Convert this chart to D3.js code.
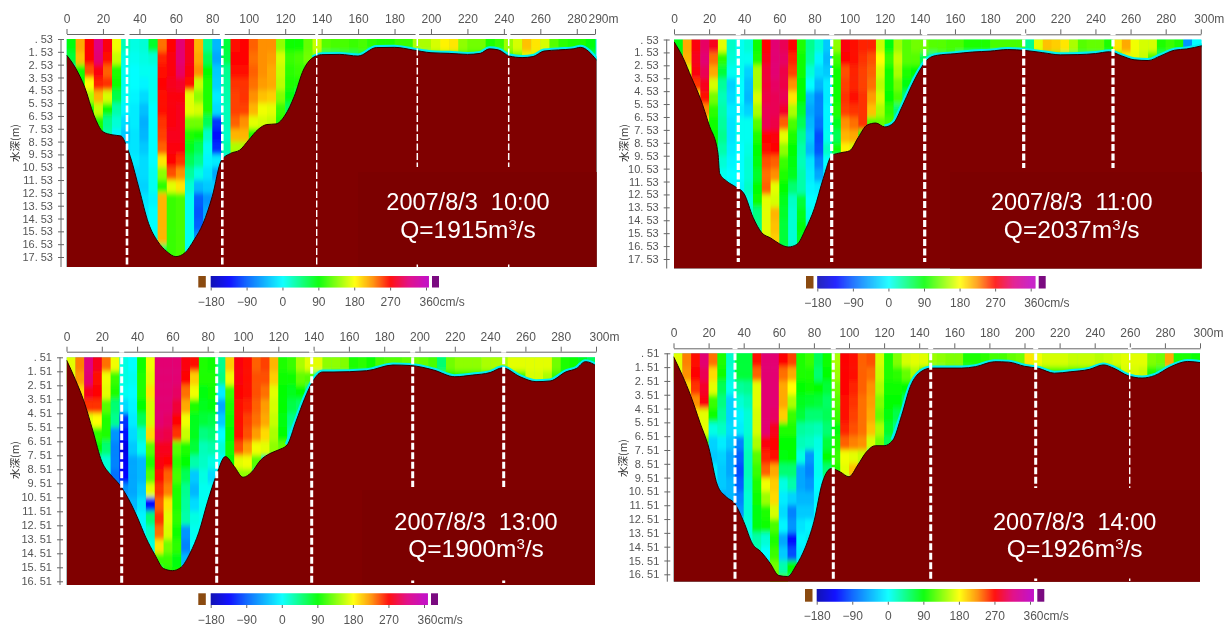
<!DOCTYPE html>
<html>
<head>
<meta charset="utf-8">
<title>ADCP cross sections 2007/8/3</title>
<script src="https://d3js.org/d3.v7.min.js"></script>
<style>
  html, body { margin: 0; padding: 0; background: #fff; }
  svg { display: block; filter: blur(0.5px); }
  .axis text { font-family: "Liberation Sans Narrow", "Liberation Sans", sans-serif; fill: #555; }
  .axis path, .axis line { stroke: #666; }
</style>
</head>
<body>
<script>
// velocity in cm/s, one list per 5 m column, one value per 1 m depth row
const velocity10 = [
  [85,70],
  [215,205,95,90],
  [270,270,245,180,150,95],
  [315,310,275,260,210,160,100,85],
  [275,265,240,255,165,95,40,30],
  [175,160,100,95,65,30,15,-5,-10],
  [25,10,5,5,5,-5,-20,-30,-20,-20],
  [10,5,0,0,-5,-10,-10,-15,-15,-10,-20,-30,-20],
  [15,10,5,-5,-20,-35,-45,-40,-30,-20,-20,-25,-15,-10,-5],
  [75,15,5,5,5,0,0,0,0,0,5,5,-5,0,0,5,5],
  [235,260,265,270,265,265,255,250,240,190,140,105,210,210,210,210,60],
  [270,275,275,280,275,275,275,280,275,270,245,170,110,110,110,110,110,110],
  [310,310,305,285,275,280,280,280,275,255,225,190,115,115,115,115,115,115],
  [280,280,275,265,170,170,130,100,80,60,35,15,5,5,5,5,5],
  [210,215,225,160,140,165,130,95,60,40,10,-40,-90,-95,-90,-60],
  [40,60,90,100,100,100,60,20,5,-5,-15,-30,-60,-50,-40],
  [-40,-50,-30,-25,-10,-20,-110,-130,-115,-10,-50,-30,-40],
  [70,65,40,35,30,25,25,20,30,10],
  [265,270,265,255,250,250,240,210,150,90],
  [270,270,265,255,255,250,225,210,150],
  [240,235,240,235,225,210,170,100],
  [225,225,225,220,205,175,165,100],
  [225,220,215,215,200,170,160],
  [140,165,160,155,135,110,100],
  [95,110,105,100,85,60],
  [95,115,110,100,60],
  [125,130,95],
  [160,140],
  [120,50],[115,50],[115,60],[110,55],[115,70],[105,20],[100,20],[100,20],[110,20],[110,30],
  [150,40],[150,60],[165,100],[185,110],[190,110],[140,100],[130,90],[130,90],[100,40],[110,40],
  [145,110],[165,130],[205,170],[190,160],[165,60],[120,30],[105,30],[100,30],[100,30],[85,60]
];
const velocity11 = [
  [85,85],
  [215,210,165,120],
  [275,280,275,255,185],
  [305,310,300,280,265,225,170,110],
  [280,235,215,165,130,105,95,90,85,60],
  [170,105,70,35,25,30,35,40,30,15,5],
  [20,15,5,-25,-20,-10,-15,-15,-10,-5,0,-5],
  [5,5,5,0,0,-10,5,5,0,0,0,-5,-5],
  [15,5,-25,-35,-40,-25,5,5,10,15,15,20,10,20,30],
  [95,100,150,150,165,150,120,100,90,85,75,90,95,45,40,30],
  [270,280,290,290,295,300,300,270,265,245,235,240,170,170,170,165],
  [310,310,310,305,300,300,295,275,270,240,225,170,165,210,205,200,190],
  [300,305,295,295,300,285,240,170,140,110,100,90,80,75,70,70,60],
  [270,260,250,225,190,150,115,100,90,85,80,50,20,15,15,15,25],
  [100,95,95,90,90,75,60,40,30,25,30,30,70,80,85,80,60],
  [40,35,15,0,-40,-50,-40,-30,-40,-15,-10,-5,0,5,20],
  [15,-5,-20,-40,-70,-70,-80,-100,-95,-70,-50,-10,0,0],
  [-30,-40,-30,-10,-10,-5,-5,5,20,0,-15],
  [140,110,95,95,95,100,80,60,95,20],
  [275,270,245,250,255,250,225,210,185,130],
  [265,265,260,260,265,255,235,215,165],
  [260,255,250,250,255,255,255,100],
  [260,245,240,235,220,205,120],
  [160,180,165,155,165,150,125],
  [85,110,95,95,90,105,115],
  [145,160,150,130,115,50],
  [120,120,100,85,50],
  [130,120,90],
  [130,60],
  [120,40],[120,60],[115,70],[115,30],[100,20],[100,20],[100,20],[115,20],[115,20],[115,20],
  [115,20],[40,40],[170,110],[205,110],[200,100],[190,60],[150,60],[120,60],[125,60],[125,60],
  [100,50],[190,100],[215,175],[175,170,60],[165,160,90],[165,115,90],[100,50],[110,50],[100,30],[-60,20],[0,0]
];
const velocity13 = [
  [170,170],
  [230,220,195,165],
  [315,310,280,255,170,130],
  [280,265,270,255,180,105,90,20,-5],
  [235,175,170,120,100,100,50,15,10,5],
  [175,110,100,50,40,-60,-70,-70,-80,-50],
  [10,10,5,-20,-110,-130,-150,-140,-135,-60,-20],
  [0,5,0,-5,-10,-20,-30,-50,-50,-50,-40,-10],
  [95,100,100,90,60,20,5,-40,-40,-30,-15,-5,-5],
  [175,170,190,165,165,195,120,100,120,170,-130,50,20,10,5],
  [310,310,310,310,310,300,280,275,265,255,240,255,235,190,110,60],
  [310,310,310,310,305,295,280,270,240,230,190,170,165,130,110,100],
  [310,310,305,290,270,255,120,105,115,100,100,105,95,105,85,95],
  [275,270,235,215,175,160,100,90,60,40,35,30,-60,-70,-40],
  [265,200,175,100,80,80,70,30,-30,-40,-20,10,5,0],
  [100,100,85,80,70,45,25,20,10,5,5,5,5],
  [95,100,95,85,65,50,30,10,-20,5,5],
  [40,45,-10,-50,-30,0,15,0,5],
  [200,175,110,100,95,90,95,90,70],
  [275,275,270,265,265,265,245,170,140],
  [265,265,265,260,250,245,220,175,140],
  [240,245,245,240,235,220,175,120],
  [250,245,235,220,215,195,170],
  [210,200,170,165,160,150,140],
  [100,95,90,90,85,90,125],
  [110,95,80,65,45,30],
  [150,125,90,55],
  [170,120,60],
  [170,50],[140,60],[140,70],[135,60],[100,60],[105,60],[95,60],[115,50],[120],[120],
  [125],[130],[125,60],[115,60],[50,110],[130,90],[140,90],[140,90],[140,90],[150,90],
  [150,90],[150],[170,80],[170,110],[170,165,80],[170,165,100],[170,150,90],[130,110],[100,80],[95,70],[80],[60]
];
const velocity14 = [
  [170,170],
  [230,225,195,165],
  [265,270,255,225,190],
  [310,300,285,275,170,170,120,100],
  [235,195,170,110,95,10,-25,-30,-10,-5,0],
  [100,95,60,45,35,20,-10,-25,-30,-30,-50],
  [20,15,5,-25,-25,-20,-30,-50,-50,-40,-40,-20],
  [70,70,35,15,-5,-10,-70,-90,-100,-90,-70,-60,10],
  [70,70,40,25,15,15,20,25,25,20,15,15,10,10],
  [265,240,170,170,165,165,150,120,110,100,95,85,85,30,25],
  [310,310,310,310,310,310,275,260,240,175,145,100,95,15,0,5],
  [310,310,310,310,305,280,270,265,215,200,195,165,115,100,110,130,100],
  [270,235,215,215,200,100,90,85,50,10,-10,-20,-5,-50,-30,30,110],
  [250,215,180,150,110,100,90,90,50,30,-25,-70,-60,-130,-100,90],
  [100,100,90,80,70,35,25,10,-50,-50,-40,-30,-15,-5,-10],
  [110,100,95,75,50,30,20,-60,-70,-60,-40,-30,-5],
  [60,50,90,70,50,25,10,5,5,0,-5,0],
  [95,90,70,55,60,50,70,90,50],
  [150,145,130,120,110,85,100,110,100],
  [270,270,270,265,265,260,240,175,170,60],
  [265,265,260,255,250,245,230,170,205],
  [240,240,240,235,235,235,225,160],
  [245,235,225,220,215,205,165],
  [165,160,150,135,125,150,130],
  [100,100,95,90,85,75,60],
  [135,105,95,90,65,45],
  [165,125,90,60],
  [170,150,100],
  [170,110],
  [145,60],[140,60],[135,70],[135,70],[100,60],[100],[105],[115],[115],[125],
  [130],[190,110],[175,110],[165,110],[165,110],[165,110],[160,110],[160,110],[160,100],[155],
  [160],[165,110],[170,165,100],[170,165,130],[170,160,100],[135,100],[130,70],[215,70],[100],[100],[95]
];

// river bed: distance from the left bank (m) and depth (m)
const bedDist10 = [0,5,10,15,20,25,30,33,35,40,45,50,55,60,65,70,75,80,85,90,95,100,105,110,115,120,125,130,135,140,150,160,170,180,190,200,210,220,227,232,237,243,250,256,262,270,278,282,291];
const bedDepth10 = [1.78,2.8,4.3,6.46,7.76,8,8.1,8.9,9.7,12.3,14.9,16.3,17.1,17.5,17.2,16.2,14.9,12.8,10,9.45,9.2,8.4,7.6,7.2,7.15,6.46,5,2.95,2,1.75,1.73,1.86,1.2,1.18,1.38,1.6,1.65,1.73,1.65,1.3,1.38,1.86,1.98,1.9,1.47,1.38,1.3,1.18,2.2];
const bedDist11 = [0,5,10,15,20,25,26,30,35,40,45,50,55,60,65,70,75,80,85,90,95,100,105,110,115,120,125,130,135,140,145,150,160,170,180,190,200,210,220,230,240,248,255,262,270,277,285,292,301];
const bedDepth11 = [0.7,1.9,3.5,5.1,7.15,9.3,10.9,11.5,11.94,12.5,14.3,15.5,15.9,16.35,16.6,16.4,15.2,13.6,11.3,9.5,9.3,9.15,8.1,7.15,7,7.3,7,5.7,4.2,2.9,2,1.75,1.63,1.5,1.43,1.31,1.38,1.55,1.72,1.7,1.62,1.48,1.8,2.1,2.16,1.8,1.36,1.26,1];
const bedDist13 = [0,5,10,15,20,25,30,35,40,45,50,55,60,65,70,75,80,85,90,95,100,105,110,115,120,125,130,135,140,145,151,170,185,195,208,220,230,240,247,257,266,274,283,289,294,301];
const bedDepth13 = [0.7,2.1,3.7,5.8,7.96,8.9,9.6,10.6,11.9,13.4,14.6,15.6,15.75,15.5,14.5,13,10.8,8.9,7.6,8.3,9.08,8.7,7.85,7.4,7.13,6.77,5.1,3.44,2.13,1.56,1.56,1.47,1.06,1.1,1.42,1.9,1.78,1.6,1.26,1.9,2.25,2.2,1.55,1.3,0.82,1.18];
const bedDist14 = [0,5,10,15,20,25,30,35,40,45,50,55,60,65,70,75,80,85,90,95,100,105,110,115,120,125,130,135,141,147,164,172,183,191,200,208,217,226,237,245,251,259,267,274,283,293,301];
const bedDepth14 = [0.75,2.1,3.65,5.5,7.3,10.05,10.9,11.4,12.7,14.3,14.9,15.7,16.6,16.67,15.85,14.6,12.7,9.8,8.85,9.1,9.45,8.6,7.64,7.2,7.2,6.8,5,2.9,1.84,1.58,1.58,1.48,1.12,1.15,1.45,1.6,1.95,1.85,1.67,1.35,1.6,2.13,2.3,2.13,1.5,1.1,1.2];

const distTicks290 = [0,20,40,60,80,100,120,140,160,180,200,220,240,260,280,290];
const distTicks300 = [0,20,40,60,80,100,120,140,160,180,200,220,240,260,280,300];
const depthTicks53 = [.53,1.53,2.53,3.53,4.53,5.53,6.53,7.53,8.53,9.53,10.53,11.53,12.53,13.53,14.53,15.53,16.53,17.53];
const depthTicks51 = [.51,1.51,2.51,3.51,4.51,5.51,6.51,7.51,8.51,9.51,10.51,11.51,12.51,13.51,14.51,15.51,16.51];
const legendTicks = [-180,-90,0,90,180,270,360];

const colorStops = [-180,-135,-90,0,90,180,225,270,315,360];
const colorValues = ["#0000b0","#0000ff","#0060ff","#00ffff","#00ff00","#ffff00","#ff9000","#ff0000","#e00080","#c000c0"];

const color = d3.scaleLinear().domain(colorStops).range(colorValues).clamp(true);

const panels = [
  { velocity: velocity10, bedDist: bedDist10, bedDepth: bedDepth10, distTicks: distTicks290, depthTicks: depthTicks53,
    top: 39, bottom: 267, left: 66.5, right: 596.7, x1: 595, y0: 39, y1: 257, axisY: 34, axisX: 61,
    edgeFrom: 135, title: "2007/8/3  10:00", q: "1915", textX: 468, textY: [210, 238], titleX: 15, titleY: 143,
    box: [358, 172, 238.7, 95],
    heavy: [127, 222.3], thin: [316.7], short: [417.3, 508.7], shortThick: 1.5, shortEnd: 167, width: 2.6, tailEnd: 267,
    legend: { left: 210.7, zero: 426, right: 428, y: 276, h: 11.5, label: 306, b0: 198.3, p0: 432 } },
  { velocity: velocity11, bedDist: bedDist11, bedDepth: bedDepth11, distTicks: distTicks300, depthTicks: depthTicks53,
    top: 39.5, bottom: 268.5, left: 674, right: 1201.7, x1: 1200.8, y0: 39.5, y1: 259, axisY: 34.3, axisX: 666.7,
    edgeFrom: 120, title: "2007/8/3  11:00", q: "2037", textX: 1071.7, textY: [210, 238], titleX: 624, titleY: 143,
    box: [950, 172, 251.7, 96.5],
    heavy: [738.3, 831.7, 924.7], thin: [], short: [1023.7, 1113], shortEnd: 168, width: 3.2, heavyEnd: 262,
    legend: { left: 817.3, zero: 1030.7, right: 1034.7, y: 276, h: 12.5, label: 307, b0: 806, p0: 1038.7, cut: 307.5 } },
  { velocity: velocity13, bedDist: bedDist13, bedDepth: bedDepth13, distTicks: distTicks300, depthTicks: depthTicks51,
    top: 357.3, bottom: 585, left: 66.5, right: 595, x1: 596, y0: 357.3, y1: 581.3, axisY: 351.7, axisX: 60,
    edgeFrom: 125, title: "2007/8/3  13:00", q: "1900", textX: 476, textY: [530, 557], titleX: 15, titleY: 460,
    box: [362, 490, 233, 95],
    heavy: [121.7, 216.7, 311.7], thin: [], short: [412.7, 503.7], shortEnd: 487, width: 3, heavyEnd: 583, tailEnd: 583,
    legend: { left: 210.7, zero: 424, right: 427.3, y: 593.3, h: 11.7, label: 624, b0: 198.3, p0: 431 } },
  { velocity: velocity14, bedDist: bedDist14, bedDepth: bedDepth14, distTicks: distTicks300, depthTicks: depthTicks51,
    top: 353.3, bottom: 581.7, left: 673.5, right: 1200, x1: 1200, y0: 353.3, y1: 574.3, axisY: 348.3, axisX: 667.3,
    edgeFrom: 125, title: "2007/8/3  14:00", q: "1926", textX: 1074.7, textY: [530, 557], titleX: 623, titleY: 458,
    box: [960, 490, 240, 91.7],
    heavy: [735, 833.3, 930.7], thin: [], short: [1035.7, 1129.7], shortEnd: 488, width: 3, heavyEnd: 581, tailEnd: 581, lastThin: true,
    legend: { left: 816.7, zero: 1030, right: 1033, y: 589, h: 12.7, label: 620, b0: 805, p0: 1037.3 } }
];

const svg = d3.select("body").append("svg").attr("width", 1224).attr("height", 628);

// soften the bitmap look: mostly along the depth direction
const blur = svg.append("defs").append("filter").attr("id", "soft")
  .attr("x", "-2%").attr("y", "-5%").attr("width", "104%").attr("height", "110%");
blur.append("feGaussianBlur").attr("stdDeviation", "0.5 2.6");

panels.forEach(drawPanel);

function drawPanel(p, n) {
  const g = svg.append("g");
  const xScale = d3.scaleLinear().domain([0, d3.max(p.distTicks)]).range([p.left, p.x1]);
  const top = p.depthTicks[0];
  const yScale = d3.scaleLinear().domain([top, p.depthTicks[p.depthTicks.length - 1]]).range([p.y0, p.y1]);

  const clipId = "plot" + n;
  g.append("clipPath").attr("id", clipId).append("rect")
    .attr("x", p.left).attr("y", p.top).attr("width", p.right - p.left).attr("height", p.bottom - p.top);

  const plot = g.append("g").attr("clip-path", `url(#${clipId})`);

  // cyan under the cells shows up along the bed
  plot.append("rect").attr("x", p.left).attr("y", p.top)
    .attr("width", p.right - p.left).attr("height", p.bottom - p.top).attr("fill", "#00eef0");

  const cells = p.velocity.flatMap((col, i) => col.map((v, j) => ({ dist: i * 5, row: j, v })));
  // top row reaches above the clip so the blur does not fade it
  plot.append("g").attr("filter", "url(#soft)").selectAll("rect").data(cells).enter().append("rect")
    .attr("x", d => xScale(d.dist))
    .attr("y", d => yScale(top + d.row) - (d.row === 0 ? 10 : 0))
    .attr("width", xScale(5) - xScale(0) + 0.5)
    .attr("height", d => yScale(1) - yScale(0) + 0.5 + (d.row === 0 ? 10 : 0))
    .attr("fill", d => color(d.v));

  const bed = p.bedDist.map((d, i) => [d, p.bedDepth[i]]);

  // thin cyan fringe above the shallow part of the bed
  plot.append("path")
    .datum(bed.filter(d => d[0] >= p.edgeFrom))
    .attr("fill", "none").attr("stroke", "#00eef0").attr("stroke-width", 5)
    .attr("d", d3.line().x(d => xScale(d[0])).y(d => yScale(d[1])).curve(d3.curveMonotoneX));

  const bedArea = d3.area().x(d => xScale(d[0])).y0(p.bottom + 2).y1(d => yScale(d[1])).curve(d3.curveMonotoneX);
  plot.append("path").datum(bed).attr("fill", "#800000").attr("d", bedArea);
  plot.append("path").datum(bed).attr("fill", "none").attr("stroke", "#2a0000").attr("stroke-width", 1)
    .attr("d", d3.line().x(d => xScale(d[0])).y(d => yScale(d[1])).curve(d3.curveMonotoneX));

  // slightly darker box behind the caption
  g.append("rect").attr("x", p.box[0]).attr("y", p.box[1]).attr("width", p.box[2]).attr("height", p.box[3]).attr("fill", "#7c0000");

  // axes
  const axisTop = d3.axisTop(xScale).tickValues(p.distTicks).tickSize(5).tickSizeOuter(0).tickPadding(6)
    .tickFormat(d => d === d3.max(p.distTicks) ? d + "m" : d);
  const gx = g.append("g").attr("class", "axis").attr("transform", `translate(0,${p.axisY})`).call(axisTop);
  gx.selectAll("text").attr("font-size", 12);
  gx.selectAll(".tick").filter(d => d === d3.max(p.distTicks)).select("text").attr("text-anchor", "start").attr("x", -7);

  const axisLeft = d3.axisLeft(yScale).tickValues(p.depthTicks).tickSize(3).tickSizeOuter(0)
    .tickFormat(d => d3.format(".2f")(d).replace(/^0\./, ".").replace(".", ". "));
  const gy = g.append("g").attr("class", "axis").attr("transform", `translate(${p.axisX},0)`).call(axisLeft);
  gy.select(".domain").attr("d", `M0,${p.top}V${p.bottom}`);
  gy.selectAll(".tick line").attr("x1", -3).attr("x2", 3);
  gy.selectAll("text").attr("font-size", 11).attr("x", -8);

  g.append("text").attr("transform", `translate(${p.titleX},${p.titleY}) rotate(-90)`)
    .attr("text-anchor", "middle").attr("dy", "0.35em")
    .attr("font-family", "'Noto Sans CJK JP'").attr("font-size", 10.5).attr("fill", "#333")
    .text("水深(m)");

  // white section lines
  const sectionLine = (px, w, y2) => g.append("line").attr("x1", px).attr("x2", px).attr("y1", p.top).attr("y2", y2)
    .attr("stroke", "#fff").attr("stroke-width", w).attr("stroke-dasharray", "7 2.5");
  const axisGap = (px, w) => g.append("line").attr("x1", px).attr("x2", px).attr("y1", p.axisY - 1).attr("y2", p.axisY + 1)
    .attr("stroke", "#fff").attr("stroke-width", w);
  const end = p.heavyEnd || p.bottom;
  p.heavy.forEach(px => { sectionLine(px, p.width, end); axisGap(px, 5); });
  p.thin.forEach(px => { sectionLine(px, 1.4, end); axisGap(px, 3); });
  p.short.forEach((px, i) => {
    const w = p.lastThin && i === 1 ? 1.4 : (p.shortThick || p.width);
    sectionLine(px, w, p.shortEnd);
    axisGap(px, w + 2);
    if (p.tailEnd) {
      g.append("line").attr("x1", px).attr("x2", px).attr("y1", p.tailEnd - 2.5).attr("y2", p.tailEnd).attr("stroke", "#fff").attr("stroke-width", w);
    }
  });

  // caption
  g.append("text").attr("x", p.textX).attr("y", p.textY[0]).attr("text-anchor", "middle")
    .attr("font-family", "'Liberation Sans'").attr("font-size", 23.5).attr("fill", "#fff")
    .style("white-space", "pre").text(p.title);
  const q = g.append("text").attr("x", p.textX).attr("y", p.textY[1]).attr("text-anchor", "middle")
    .attr("font-family", "'Liberation Sans'").attr("font-size", 24.5).attr("fill", "#fff");
  q.append("tspan").text(`Q=${p.q}m`);
  q.append("tspan").attr("dy", -8).attr("font-size", 15).text("3");
  q.append("tspan").attr("dy", 8).text("/s");

  drawLegend(g, p.legend);
}

function drawLegend(g, l) {
  const scale = d3.scaleLinear().domain([-180, 360]).range([l.left, l.zero]);
  const steps = d3.range(l.left, l.right, 1);
  g.selectAll("rect.ramp").data(steps).enter().append("rect")
    .attr("class", "ramp")
    .attr("x", d => d).attr("y", l.y).attr("width", 1.2).attr("height", l.h)
    .attr("fill", d => color(scale.invert(d)));
  g.append("rect").attr("x", l.b0).attr("y", l.y).attr("width", 7.5).attr("height", l.h).attr("fill", "#8a4a10");
  g.append("rect").attr("x", l.p0).attr("y", l.y).attr("width", 7).attr("height", l.h).attr("fill", "#7a0a80");

  const axis = d3.axisBottom(scale).tickValues(legendTicks).tickSize(3).tickSizeOuter(0).tickPadding(6)
    .tickFormat(d => d === 360 ? "360cm/s" : (d < 0 ? "\u2212" + (-d) : d));
  const ga = g.append("g").attr("class", "axis").attr("transform", `translate(0,${l.y + l.h})`).call(axis);
  ga.select(".domain").remove();
  ga.selectAll(".tick line").attr("stroke", d => color(d));
  ga.selectAll("text").attr("font-size", 12).attr("y", l.label - (l.y + l.h) - 9).attr("dy", "0.71em");
  ga.selectAll(".tick").filter(d => d === 360).select("text").attr("text-anchor", "start").attr("x", -7);

  if (l.cut) {
    g.append("rect").attr("x", l.left - 5).attr("y", l.cut).attr("width", l.right - l.left + 60).attr("height", 8).attr("fill", "#fff");
  }
}
</script>
</body>
</html>
